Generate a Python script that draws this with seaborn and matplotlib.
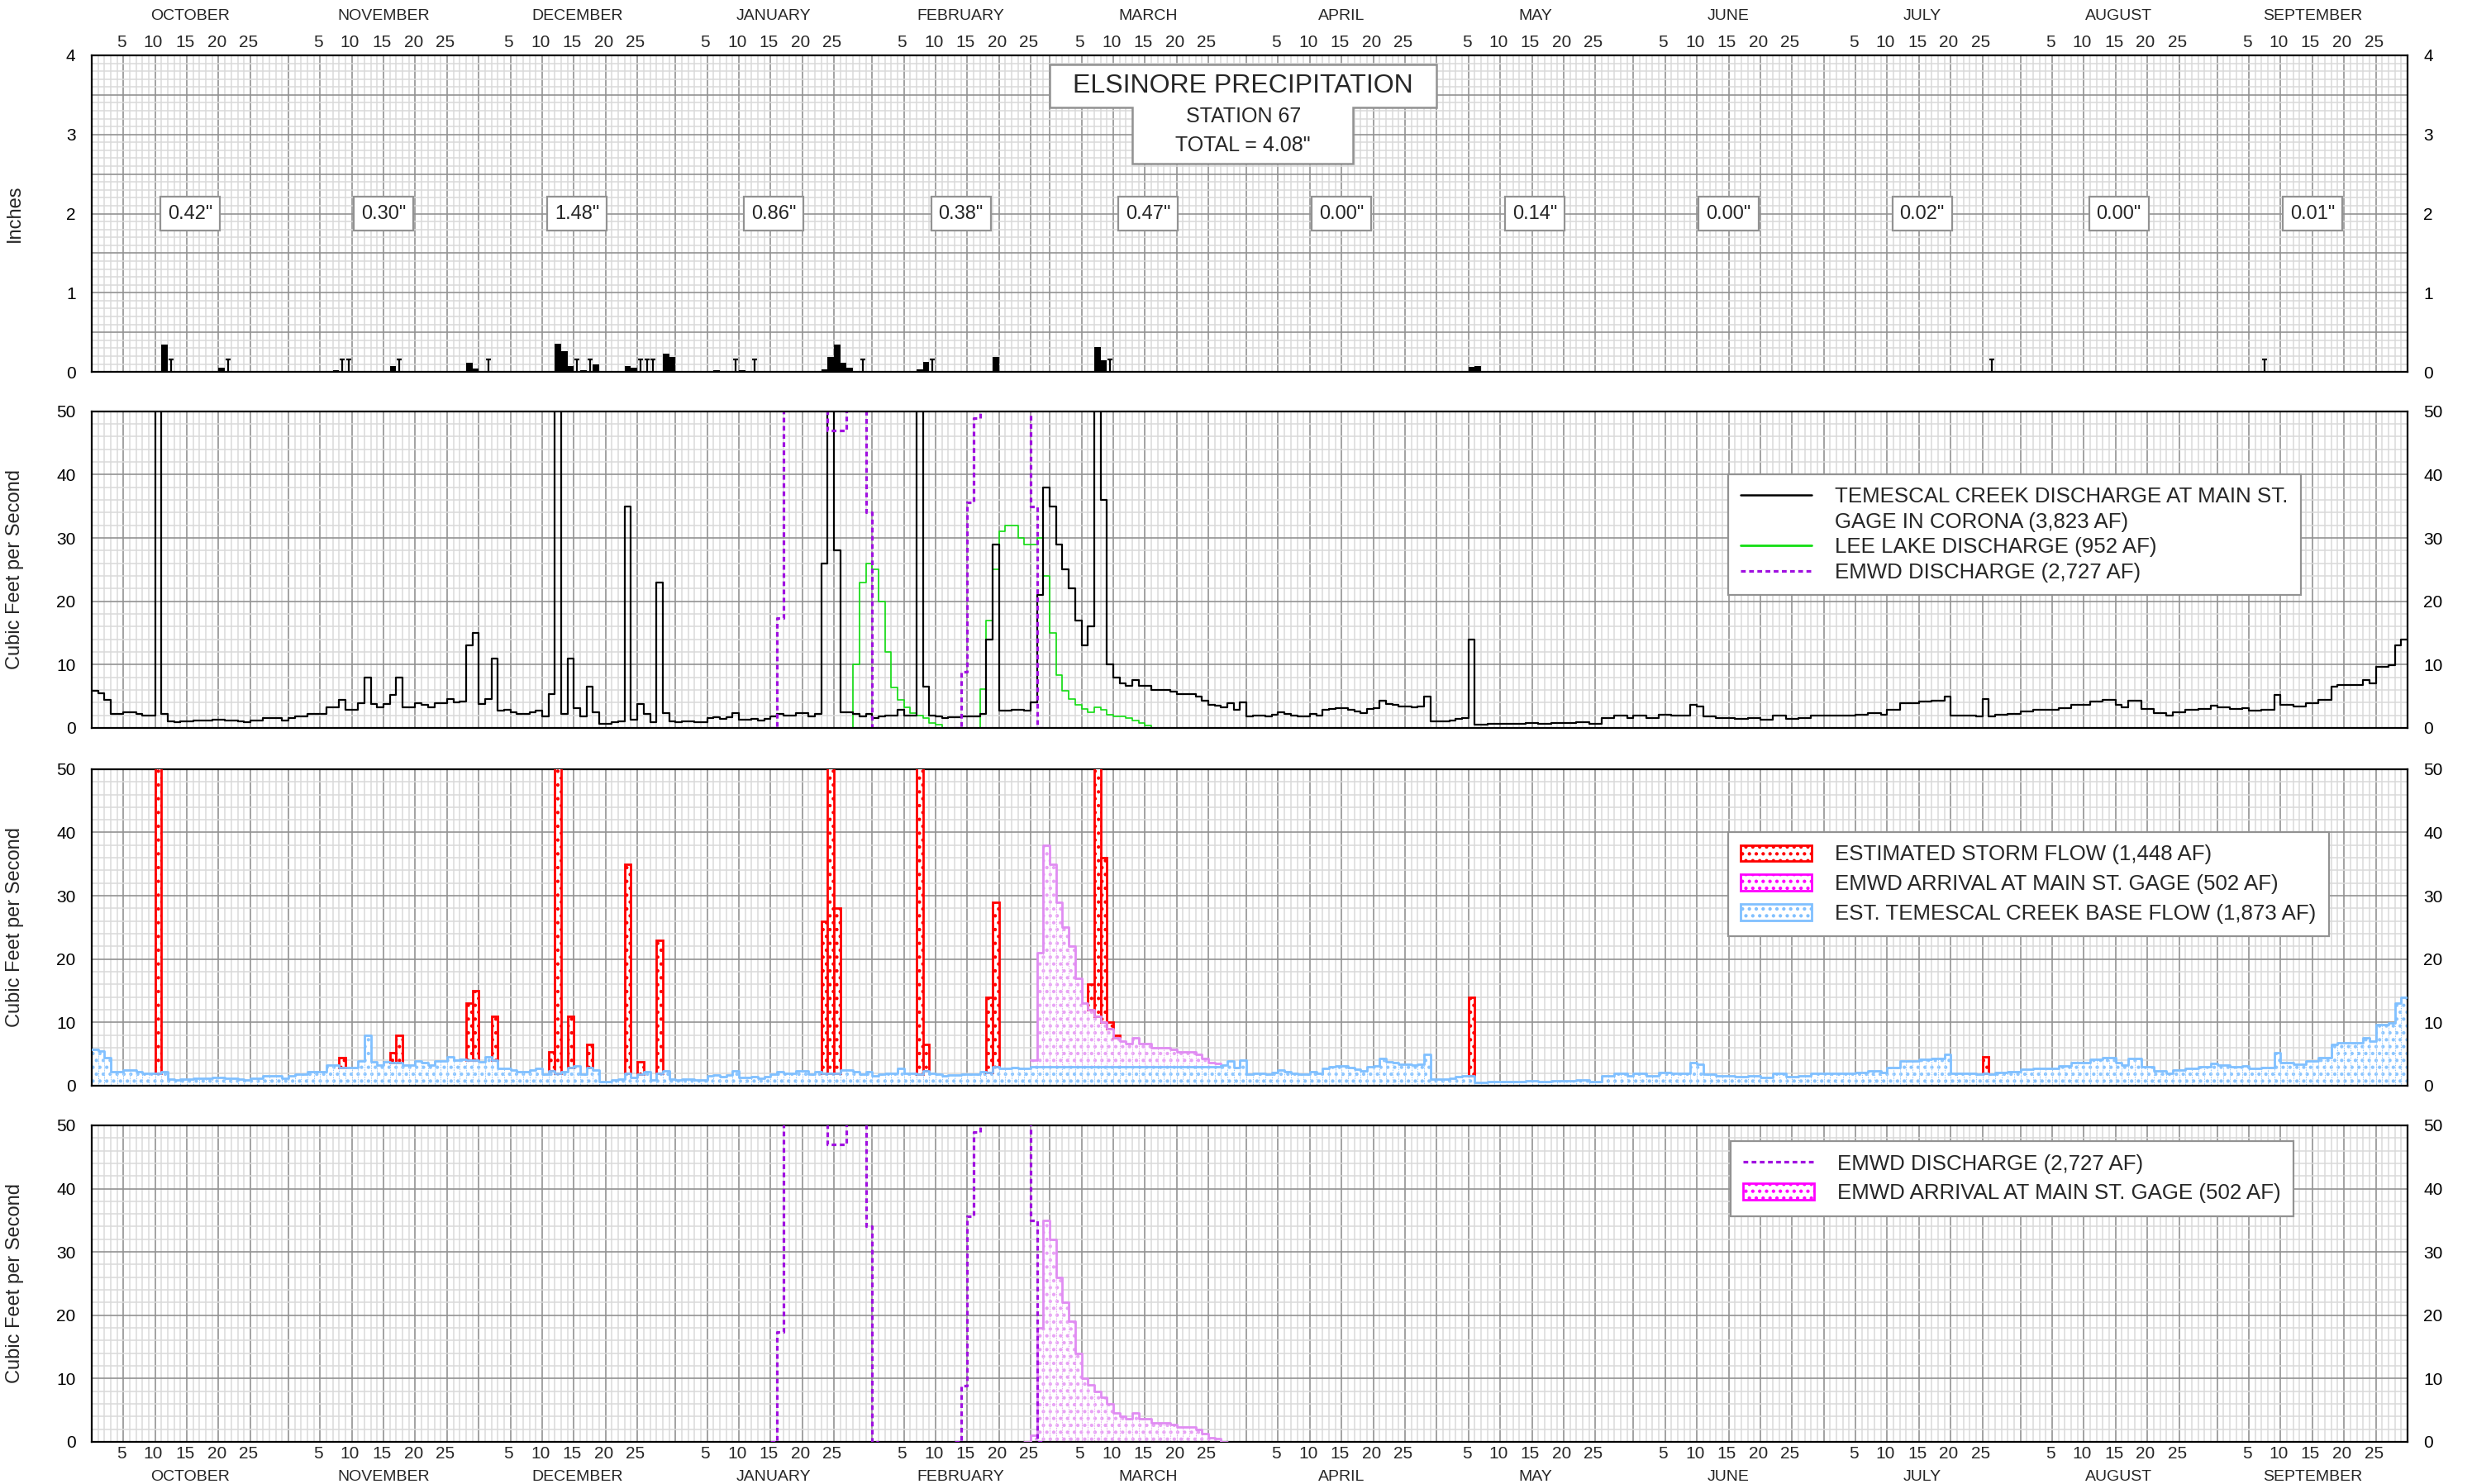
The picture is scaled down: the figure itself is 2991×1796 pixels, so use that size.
import numpy as np
import pandas as pd
import matplotlib
matplotlib.use("Agg")
import matplotlib.pyplot as plt
import matplotlib.transforms as mtrans
from matplotlib.patches import Patch, Polygon, Rectangle
from matplotlib.lines import Line2D
import seaborn as sns

sns.set_theme(style="white")
plt.rcParams["font.family"] = ["Liberation Sans", "DejaVu Sans"]
plt.rcParams["hatch.linewidth"] = 0.9

# ---------------- calendar (water year, day index 0 = Oct 1) ----------------
MONTHS = ["OCTOBER", "NOVEMBER", "DECEMBER", "JANUARY", "FEBRUARY", "MARCH",
          "APRIL", "MAY", "JUNE", "JULY", "AUGUST", "SEPTEMBER"]
MONTH_LENGTHS = [31, 30, 31, 31, 28, 31, 30, 31, 30, 31, 31, 30]
DAY_MARKS = [5, 10, 15, 20, 25]
MONTH_PRECIP = ['0.42"', '0.30"', '1.48"', '0.86"', '0.38"', '0.47"',
                '0.00"', '0.14"', '0.00"', '0.02"', '0.00"', '0.01"']
TITLE = "ELSINORE PRECIPITATION"
STATION = "STATION 67"
TOTAL = 'TOTAL = 4.08"'

# ---------------- daily precipitation (inches) ----------------
precip_day = [11, 20, 38, 47, 59, 60, 73, 74, 75, 77, 79, 84, 85, 90, 91,
              98, 102, 115, 116, 117, 118, 119, 130, 131, 142, 158, 159, 217, 218]
precip_in = [0.35, 0.05, 0.025, 0.07, 0.12, 0.04, 0.36, 0.26, 0.07, 0.025, 0.095, 0.07, 0.05, 0.23, 0.19,
             0.02, 0.025, 0.03, 0.19, 0.35, 0.12, 0.05, 0.03, 0.13, 0.19, 0.31, 0.15, 0.06, 0.07]
trace_day = [12, 21, 39, 40, 48, 62, 76, 78, 86, 87, 88, 101, 104, 121, 132, 160, 299, 342]
TRACE_HEIGHT = 0.16

# ---------------- estimated Temescal Creek base flow (cfs) ----------------
base_oct = [5.8, 5.5, 4.4, 2.2, 2.2, 2.5, 2.5, 2.2, 2.0, 2.0, 2.0, 2.2, 1.0, 0.9, 1.0, 1.1,
            1.2, 1.2, 1.2, 1.3, 1.3, 1.2, 1.2, 1.0, 0.9, 1.2, 1.2, 1.5, 1.5, 1.5, 1.2]
base_nov = [1.5, 1.8, 1.8, 2.2, 2.2, 2.2, 3.2, 3.2, 2.9, 2.9, 2.9, 3.9, 7.9, 3.8, 3.3,
            3.8, 3.7, 3.7, 3.3, 3.3, 3.9, 3.7, 3.2, 3.9, 3.9, 4.6, 4.0, 4.2, 4.1, 4.1]
base_dec = [3.8, 4.5, 4.1, 2.7, 2.8, 2.5, 2.2, 2.2, 2.5, 2.7, 1.8, 2.3, 2.0, 2.2, 2.9, 3.1,
            1.8, 2.9, 2.5, 0.65, 0.65, 0.9, 1.0, 2.0, 1.25, 1.8, 2.2, 0.9, 2.0, 2.4, 1.0]
base_jan = [0.9, 1.05, 1.05, 0.9, 0.9, 1.6, 1.7, 1.45, 1.7, 2.4, 1.35, 1.35, 1.4, 1.2, 1.45, 1.8,
            2.2, 2.0, 1.9, 2.3, 2.3, 1.8, 2.2, 2.0, 2.0, 2.0, 2.5, 2.5, 2.2, 1.8, 2.2]
base_feb = [1.6, 1.8, 2.0, 2.0, 2.8, 2.0, 1.9, 1.8, 2.3, 1.9, 1.8, 1.5, 1.7, 1.7,
            1.8, 1.8, 1.8, 2.2, 2.1, 3.0, 2.7, 2.7, 2.9, 2.8, 2.7, 3.0, 3.0, 3.0]
base_mar = [3.0, 3.0, 3.0, 3.0, 3.0, 3.0, 3.0, 3.0, 3.0, 3.0, 3.0, 3.0, 3.0, 3.0, 3.0, 3.0,
            3.0, 3.0, 3.0, 3.0, 3.0, 3.0, 3.0, 3.0, 3.0, 3.0, 3.0, 3.2, 3.9, 2.9, 4.0]
base_apr = [1.8, 1.9, 1.9, 1.8, 2.1, 2.5, 2.2, 1.9, 1.8, 1.8, 2.2, 1.9, 2.8, 3.0, 3.1,
            3.1, 2.9, 2.6, 2.4, 3.0, 3.1, 4.3, 3.8, 3.7, 3.4, 3.4, 3.2, 3.4, 5.0, 1.1]
base_may = [1.1, 1.1, 1.2, 1.4, 1.6, 1.5, 0.5, 0.5, 0.6, 0.6, 0.6, 0.7, 0.7, 0.7, 0.8, 0.8,
            0.6, 0.6, 0.8, 0.8, 0.8, 0.8, 0.9, 0.9, 0.6, 0.6, 1.5, 1.5, 1.9, 1.9, 1.6]
base_jun = [1.9, 1.9, 1.6, 1.6, 2.1, 2.1, 1.9, 1.9, 1.9, 3.6, 3.4, 1.8, 1.8, 1.5, 1.5,
            1.5, 1.4, 1.4, 1.6, 1.6, 1.3, 1.3, 1.9, 1.9, 1.4, 1.4, 1.6, 1.6, 2.0, 2.0]
base_jul = [1.9, 1.9, 1.9, 1.9, 1.9, 2.1, 2.1, 2.3, 2.3, 2.1, 2.9, 2.9, 3.9, 3.9, 3.9, 4.2,
            4.2, 4.3, 4.3, 4.9, 1.9, 1.9, 2.0, 2.0, 1.8, 2.0, 1.8, 2.1, 2.1, 2.2, 2.2]
base_aug = [2.6, 2.6, 2.8, 2.8, 2.8, 2.8, 3.1, 3.1, 3.6, 3.6, 3.6, 4.2, 4.2, 4.4, 4.4, 3.6,
            3.2, 4.3, 4.3, 3.0, 3.0, 2.3, 2.3, 2.0, 2.5, 2.5, 2.8, 2.8, 3.0, 3.0, 3.5]
base_sep = [3.3, 3.3, 3.0, 3.0, 3.1, 2.7, 2.7, 2.9, 2.9, 5.2, 3.6, 3.6, 3.4, 3.4, 3.9,
            3.9, 4.4, 4.4, 6.5, 6.8, 6.8, 6.8, 6.8, 7.6, 7.1, 9.7, 9.7, 9.9, 13.0, 14.0]

# ---------------- estimated storm flow (cfs, on top of base + arrival) ----------------
# values of 50-58 run off the 50 cfs scale
storm_day = [10, 39, 47, 48, 59, 60, 63, 72, 73, 75, 78, 84, 86, 89, 115, 116, 117,
             130, 131, 141, 142, 157, 158, 159, 160, 161, 217, 298]
storm_cfs = [58, 1.5, 1.5, 4.2, 8.9, 10.9, 6.9, 3.0, 58, 8.1, 3.6, 33, 2.0, 21, 24, 58, 26,
             58, 4.2, 11.9, 26, 4.0, 50, 26, 1.0, 0.4, 12.5, 2.5]

# ---------------- EMWD arrival at Main St. gage (cfs), from day 148 ----------------
arrival_start = 148
arrival_cfs = [1.1, 18, 35, 32, 26, 22, 19, 14, 10, 9, 8, 7, 6, 4.6, 4.0,
               3.6, 4.6, 3.6, 3.6, 3.0, 3.0, 3.0, 2.7, 2.3, 2.3, 2.3, 2.0, 1.35, 0.7, 0.5]

# ---------------- Lee Lake discharge (cfs), from day 119 ----------------
lee_start = 119
lee_cfs = [0, 10, 23, 26, 25, 20, 12, 6.4, 4.4, 3.2, 2.3, 1.9, 1.5, 0.8, 0.5, 0, 0, 0, 0, 0, 0,
           6.1, 17, 25, 31, 32, 32, 30, 29, 29, 30, 24, 15, 8.4, 5.8, 4.5, 3.6, 3.0, 2.5, 3.3,
           2.8, 2.1, 1.8, 1.8, 1.5, 1.2, 0.8, 0.4, 0]

# ---------------- EMWD discharge (cfs), two releases; 60 = off scale ----------------
emwd1_start = 107
emwd1_cfs = [0, 17.3, 60, 60, 60, 60, 60, 60, 60, 47, 47, 47, 60, 60, 60, 34, 0]
emwd2_start = 136
emwd2_cfs = [0, 8.9, 35.6, 49, 60, 60, 60, 60, 60, 60, 60, 60, 35, 0]

# ---------------- legend texts ----------------
LEG2 = ["TEMESCAL CREEK DISCHARGE AT MAIN ST.", "GAGE IN CORONA (3,823 AF)",
        "LEE LAKE DISCHARGE (952 AF)", "EMWD DISCHARGE (2,727 AF)"]
LEG3 = ["ESTIMATED STORM FLOW (1,448 AF)", "EMWD ARRIVAL AT MAIN ST. GAGE (502 AF)",
        "EST. TEMESCAL CREEK BASE FLOW (1,873 AF)"]
LEG4 = ["EMWD DISCHARGE (2,727 AF)", "EMWD ARRIVAL AT MAIN ST. GAGE (502 AF)"]

# ---------------- styles ----------------
GRID_MAJ = "#929292"
GRID_MIN = "#dadada"
GREEN = "#12dd12"
PURPLE = "#a010e0"
RED = "#ff0000"
MAG_LINE = "#e08cf2"
MAG_HATCH = "#e8a2f5"
MAG_LEG = "#ff00ff"
MAG_LEG_EDGE = "#ee88f8"
BLUE_LINE = "#80c0ff"
BLUE_HATCH = "#8cc6ff"
DASH = (0, (1.8, 1.3))

# ---------------- derived series ----------------
base = np.array(base_oct + base_nov + base_dec + base_jan + base_feb + base_mar +
                base_apr + base_may + base_jun + base_jul + base_aug + base_sep, float)
N = len(base)
days = np.arange(N)
month_start = np.concatenate([[0], np.cumsum(MONTH_LENGTHS)[:-1]])
storm = np.zeros(N)
storm[storm_day] = storm_cfs
arrival = np.zeros(N)
arrival[arrival_start:arrival_start + len(arrival_cfs)] = arrival_cfs
temescal = base + arrival + storm


def step_line(ax, values, start, **kw):
    v = np.asarray(values, float)
    x = np.arange(start, start + len(v) + 1)
    y = np.append(v, v[-1])
    sns.lineplot(x=x, y=y, drawstyle="steps-post", estimator=None, sort=False, ax=ax, **kw)


# ---------------- figure ----------------
fig = plt.figure(figsize=(14.955, 8.98), dpi=200)
L, W, H = 0.0371, 0.9368, 0.2133
ax1 = fig.add_axes([L, 0.7494, W, H])
ax2 = fig.add_axes([L, 0.5095, W, H])
ax3 = fig.add_axes([L, 0.2684, W, H])
ax4 = fig.add_axes([L, 0.0284, W, H])
axes = [ax1, ax2, ax3, ax4]

major_x = sorted(set(list(month_start) + [N] +
                     [s + d for s in month_start for d in DAY_MARKS]))

for ax in axes:
    ax.set_facecolor("white")
    ax.set_axisbelow(True)
    ax.set_xlim(0, N)
    ax.set_xticks(major_x)
    ax.set_xticks(np.arange(0, N + 1), minor=True)
    ax.grid(True, which="minor", color=GRID_MIN, lw=0.55)
    ax.grid(True, which="major", color=GRID_MAJ, lw=0.6)
    ax.tick_params(which="both", length=0, labelbottom=False, labeltop=False,
                   labelleft=True, labelright=True, labelsize=7.5, colors="black")
    ax.tick_params(axis="y", which="major", pad=7)
    for s in ax.spines.values():
        s.set_color("black")
        s.set_linewidth(0.8)

# ---------------- panel 1: precipitation ----------------
precip_df = pd.DataFrame({"day": np.array(precip_day, float) + 0.5, "inches": precip_in})
sns.histplot(data=precip_df, x="day", weights="inches", binwidth=1, binrange=(0, N),
             color="black", alpha=1, edgecolor="black", linewidth=0, ax=ax1)
tday = np.array(trace_day, float)
ax1.vlines(tday + 0.5, np.zeros_like(tday), np.full_like(tday, TRACE_HEIGHT),
           color="black", lw=0.8, zorder=3)
ax1.hlines(np.full_like(tday, TRACE_HEIGHT), tday + 0.1, tday + 0.9,
           color="black", lw=0.8, zorder=3)

for m in range(12):
    c = month_start[m] + MONTH_LENGTHS[m] / 2
    ax1.add_patch(Rectangle((c - 4.7, 1.79), 9.4, 0.42, facecolor="white",
                            edgecolor=GRID_MAJ, lw=0.8, zorder=4))
    ax1.text(c, 2.0, MONTH_PRECIP[m], ha="center", va="center", fontsize=8.5, zorder=5)

title_poly = [(151.0, 3.885), (211.9, 3.885), (211.9, 3.342), (198.8, 3.342),
              (198.8, 2.632), (164.0, 2.632), (164.0, 3.342), (151.0, 3.342)]
ax1.add_patch(Polygon(title_poly, closed=True, facecolor="white", edgecolor=GRID_MAJ,
                      lw=0.9, zorder=4))
ax1.text(181.5, 3.61, TITLE, ha="center", va="center", fontsize=11.5, zorder=5)
ax1.text(181.5, 3.227, STATION, ha="center", va="center", fontsize=9, zorder=5)
ax1.text(181.5, 2.867, TOTAL, ha="center", va="center", fontsize=9, zorder=5)

# ---------------- panel 2: discharges ----------------
step_line(ax2, lee_cfs, lee_start, color=GREEN, lw=0.6)
step_line(ax2, temescal, 0, color="black", lw=0.8)
step_line(ax2, emwd1_cfs, emwd1_start, color=PURPLE, lw=1.15, linestyle=DASH)
step_line(ax2, emwd2_cfs, emwd2_start, color=PURPLE, lw=1.15, linestyle=DASH)

h2 = [Line2D([], [], color="black", lw=0.9),
      Line2D([], [], color="none"),
      Line2D([], [], color=GREEN, lw=1.0),
      Line2D([], [], color=PURPLE, lw=1.15, linestyle=DASH)]
lg2 = ax2.legend(h2, LEG2, loc="upper left", bbox_to_anchor=(0.7066, 0.8016),
                 fontsize=9.3, frameon=True, fancybox=False, framealpha=1,
                 edgecolor=GRID_MAJ, handlelength=3.3, handletextpad=1.1,
                 labelspacing=0.25, borderpad=0.6, borderaxespad=0)
lg2.get_frame().set_linewidth(0.8)

# ---------------- panel 3: flow components ----------------
ax3.bar(days, base, width=1, align="edge", color="white", edgecolor=BLUE_HATCH,
        linewidth=0.4, linestyle=":", hatch="....", zorder=2)
arr_days = np.arange(arrival_start, arrival_start + len(arrival_cfs))
ax3.bar(arr_days, arrival_cfs, bottom=base[arr_days], width=1, align="edge",
        color="white", edgecolor=MAG_HATCH, linewidth=0.4, linestyle=":", hatch="....", zorder=2)
sd = np.array(storm_day)
ax3.bar(sd, storm_cfs, bottom=(base + arrival)[sd], width=1, align="edge",
        color="white", edgecolor=RED, linewidth=1.0, hatch="....", zorder=3)
step_line(ax3, base, 0, color=BLUE_LINE, lw=1.0, zorder=4)
step_line(ax3, base[arr_days] + np.array(arrival_cfs), arrival_start, color=MAG_LINE, lw=1.0, zorder=4)

h3 = [Patch(facecolor="white", edgecolor=RED, hatch="....", lw=1.0),
      Patch(facecolor="white", edgecolor=MAG_LEG, hatch="....", lw=1.0),
      Patch(facecolor="white", edgecolor=BLUE_LINE, hatch="....", lw=1.0)]
lg3 = ax3.legend(h3, LEG3, loc="upper left", bbox_to_anchor=(0.7066, 0.8016),
                 fontsize=9.3, frameon=True, fancybox=False, framealpha=1,
                 edgecolor=GRID_MAJ, handlelength=3.3, handleheight=0.8, handletextpad=1.1,
                 labelspacing=0.45, borderpad=0.6, borderaxespad=0)
lg3.get_frame().set_linewidth(0.8)

# ---------------- panel 4: EMWD ----------------
ax4.bar(arr_days, arrival_cfs, width=1, align="edge", color="white", edgecolor=MAG_HATCH,
        linewidth=0.4, linestyle=":", hatch="....", zorder=2)
step_line(ax4, np.concatenate([[0], arrival_cfs, [0]]), arrival_start - 1, color=MAG_LINE, lw=1.0, zorder=3)
step_line(ax4, emwd1_cfs, emwd1_start, color=PURPLE, lw=1.15, linestyle=DASH, zorder=4)
step_line(ax4, emwd2_cfs, emwd2_start, color=PURPLE, lw=1.15, linestyle=DASH, zorder=4)

h4 = [Line2D([], [], color=PURPLE, lw=1.15, linestyle=DASH),
      Patch(facecolor="white", edgecolor=MAG_LEG, hatch="....", lw=1.0)]
lg4 = ax4.legend(h4, LEG4, loc="upper left", bbox_to_anchor=(0.7077, 0.950),
                 fontsize=9.3, frameon=True, fancybox=False, framealpha=1,
                 edgecolor=GRID_MAJ, handlelength=3.3, handleheight=0.8, handletextpad=1.1,
                 labelspacing=0.45, borderpad=0.6, borderaxespad=0)
lg4.get_frame().set_linewidth(0.8)

# ---------------- axes scales and labels ----------------
for ax in axes:
    ax.set_xlim(0, N)
    ax.set_xlabel("")
ax1.set_ylim(0, 4)
ax1.set_yticks(np.arange(0, 4.01, 0.5))
ax1.set_yticklabels([("%d" % v if float(v).is_integer() else "") for v in np.arange(0, 4.01, 0.5)])
ax1.set_yticks(np.arange(0, 4.01, 0.1), minor=True)
ax1.set_ylabel("Inches", fontsize=8.5)
for ax in axes[1:]:
    ax.set_ylim(0, 50)
    ax.set_yticks(np.arange(0, 51, 10))
    ax.set_yticklabels([str(v) for v in range(0, 51, 10)])
    ax.set_yticks(np.arange(0, 51, 2), minor=True)
    ax.set_ylabel("Cubic Feet per Second", fontsize=8.5)
for ax in axes:
    ax.yaxis.set_label_coords(-0.0293, 0.5)


# ---------------- calendar labels ----------------
def add_calendar(ax, yd, ym):
    tr = mtrans.blended_transform_factory(ax.transData, ax.transAxes)
    for m in range(12):
        s = month_start[m]
        for d in DAY_MARKS:
            ax.text(s + d - 0.3, yd, str(d), transform=tr, ha="center", va="center", fontsize=7.5)
        ax.text(s + MONTH_LENGTHS[m] / 2, ym, MONTHS[m], transform=tr, ha="center",
                va="center", fontsize=7)


add_calendar(ax1, 1.0405, 1.125)
add_calendar(ax4, -0.0366, -0.110)

fig.savefig("out.png", dpi=200)
